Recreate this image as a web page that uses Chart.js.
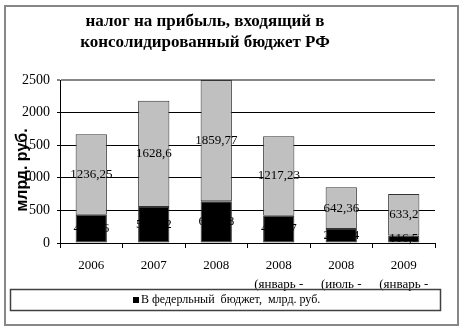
<!DOCTYPE html>
<html>
<head>
<meta charset="utf-8">
<script src="https://cdn.jsdelivr.net/npm/chart.js@4.4.0/dist/chart.umd.min.js"></script>
<style>
  html, body { margin: 0; padding: 0; background: #fff; }
  #wrap { width: 465px; height: 332px; }
</style>
</head>
<body>
<div id="wrap"><canvas id="chart" width="465" height="332"></canvas></div>
<script>
// данные с картинки
const categories = [['2006'], ['2007'], ['2008'], ['2008', '(январь -'], ['2008', '(июль -'], ['2009', '(январь -']];
const federal = [432.56, 551.92, 640.48, 419.47, 214.04, 116.5];
const regional = [1236.25, 1628.6, 1859.77, 1217.23, 642.36, 633.2];
const yTicks = [0, 500, 1000, 1500, 2000, 2500];
const titleLines = ['налог на прибыль, входящий в', 'консолидированный бюджет РФ'];
const yTitle = 'млрд. руб.';
const federalLabel = 'В федерльный  бюджет,  млрд. руб.';
const regionalLabel = 'В бюджеты субъектов РФ, млрд. руб.';

const serif = '"Liberation Serif", "Times New Roman", serif';
const sans = '"Liberation Sans", Arial, sans-serif';

const fmt = v => String(v).replace('.', ',');

// подписи значений в середине сегментов
const valueLabels = {
  id: 'valueLabels',
  afterDatasetsDraw(chart) {
    const ctx = chart.ctx;
    ctx.save();
    ctx.font = '13px ' + serif;
    ctx.fillStyle = '#000';
    ctx.textAlign = 'center';
    ctx.textBaseline = 'middle';
    chart.data.datasets.forEach((ds, i) => {
      chart.getDatasetMeta(i).data.forEach((bar, j) => {
        ctx.fillText(fmt(ds.data[j]), bar.x, (bar.y + bar.base) / 2);
      });
    });
    ctx.restore();
  }
};

// рамка, заголовок, подпись оси, легенда
const frame = {
  id: 'frame',
  afterDraw(chart) {
    const ctx = chart.ctx;
    ctx.save();
    ctx.strokeStyle = '#878787';
    ctx.lineWidth = 2;
    ctx.strokeRect(5, 6, 453, 319);

    ctx.fillStyle = '#000';
    ctx.font = 'bold 17px ' + serif;
    ctx.textAlign = 'center';
    ctx.textBaseline = 'middle';
    ctx.fillText(titleLines[0], 205, 22);
    ctx.fillText(titleLines[1], 205, 43);

    ctx.save();
    ctx.translate(23, 170);
    ctx.rotate(-Math.PI / 2);
    ctx.font = 'bold 16px ' + sans;
    ctx.fillText(yTitle, 0, 0);
    ctx.restore();

    // легенда только для федерального бюджета
    ctx.strokeStyle = '#404040';
    ctx.lineWidth = 1.5;
    ctx.strokeRect(10.5, 289.5, 430, 21);
    const ds = chart.data.datasets[0];
    ctx.fillStyle = ds.backgroundColor;
    ctx.fillRect(133, 297, 6, 6);
    ctx.fillStyle = '#000';
    ctx.font = '12px ' + serif;
    ctx.textAlign = 'left';
    ctx.fillText(ds.label, 141, 300);
    ctx.restore();
  }
};

new Chart(document.getElementById('chart'), {
  type: 'bar',
  data: {
    labels: categories,
    datasets: [
      { label: federalLabel, data: federal, backgroundColor: '#000', borderColor: '#333', borderWidth: 1, borderSkipped: false },
      { label: regionalLabel, data: regional, backgroundColor: '#c0c0c0', borderColor: '#333', borderWidth: 1, borderSkipped: false }
    ]
  },
  options: {
    responsive: false,
    animation: false,
    layout: { padding: { left: 0, right: 30, top: 80, bottom: 41 } },
    datasets: { bar: { categoryPercentage: 1, barPercentage: 0.5 } },
    plugins: { legend: { display: false }, title: { display: false }, tooltip: { enabled: false } },
    scales: {
      x: {
        stacked: true,
        grid: { drawOnChartArea: false, drawTicks: true, tickLength: 5, color: '#000' },
        border: { color: '#000', width: 1 },
        ticks: { color: '#000', font: { family: serif, size: 13, lineHeight: 1.45 }, padding: 8, maxRotation: 0, autoSkip: false },
        afterFit: s => { s.height = 48; }
      },
      y: {
        stacked: true,
        min: 0,
        max: 2500,
        afterBuildTicks: axis => { axis.ticks = yTicks.map(v => ({ value: v })); },
        grid: { color: c => c.tick && c.tick.value === 2500 ? '#878787' : '#000', lineWidth: c => c.tick && c.tick.value === 2500 ? 2 : 1, tickLength: 3 },
        border: { color: '#000', width: 1 },
        ticks: { color: '#000', font: { family: serif, size: 14 }, padding: 7, callback: v => String(v) },
        afterFit: s => { s.width = 60; }
      }
    }
  },
  plugins: [valueLabels, frame]
});
</script>
</body>
</html>
